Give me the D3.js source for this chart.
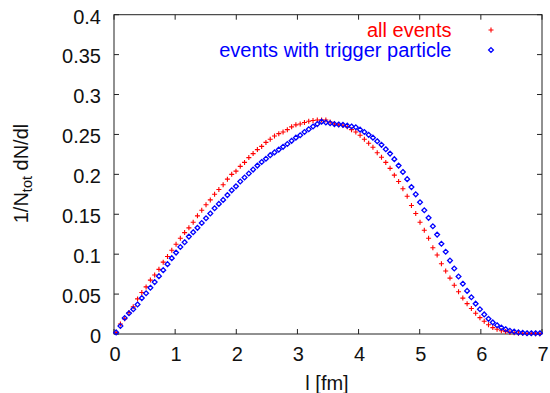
<!DOCTYPE html>
<html>
<head>
<meta charset="utf-8">
<script src="https://cdn.jsdelivr.net/npm/d3@7"></script>
<style>
  body { margin: 0; background: #fff; }
  text { font-family: "Liberation Sans", Arial, sans-serif; }
</style>
</head>
<body>
<svg id="chart" width="550" height="393"></svg>
<script>
// Distribution of path length l, bins of 0.07 fm from 0 to 7 fm
const binWidth = 0.07;

// all events (red +)
const allEvents = [
    0.002, 0.0125, 0.019, 0.027, 0.034, 0.044, 0.052, 0.059, 0.0675, 0.074,
    0.081, 0.090, 0.097, 0.105, 0.1125, 0.120, 0.127, 0.133, 0.140, 0.148,
    0.155, 0.162, 0.168, 0.175, 0.181, 0.187, 0.194, 0.200, 0.204, 0.210,
    0.215, 0.221, 0.226, 0.231, 0.235, 0.240, 0.244, 0.248, 0.251, 0.253,
    0.256, 0.2595, 0.262, 0.263, 0.265, 0.2665, 0.2675, 0.268, 0.268, 0.268,
    0.2655, 0.263, 0.262, 0.2615, 0.2595, 0.256, 0.253, 0.249, 0.244, 0.239,
    0.234, 0.227, 0.2215, 0.215, 0.2075, 0.199, 0.191, 0.182, 0.1725, 0.161,
    0.151, 0.140, 0.130, 0.120, 0.108, 0.099, 0.088, 0.079, 0.070, 0.061,
    0.053, 0.045, 0.038, 0.032, 0.026, 0.0205, 0.016, 0.0115, 0.008, 0.006,
    0.004, 0.003, 0.002, 0.0015, 0.001, 0.0008, 0.0006, 0.0005, 0.0004, 0.0003
];

// events with trigger particle (blue diamonds)
const triggerEvents = [
    0.002, 0.010, 0.020, 0.026, 0.031, 0.037, 0.045, 0.051, 0.058, 0.065,
    0.0725, 0.080, 0.0875, 0.095, 0.102, 0.109, 0.115, 0.122, 0.1275, 0.133,
    0.139, 0.145, 0.151, 0.1575, 0.163, 0.168, 0.174, 0.180, 0.185, 0.191,
    0.196, 0.201, 0.206, 0.211, 0.2155, 0.2195, 0.224, 0.2275, 0.231, 0.2345,
    0.238, 0.242, 0.246, 0.249, 0.253, 0.2565, 0.260, 0.263, 0.266, 0.265,
    0.264, 0.263, 0.2625, 0.262, 0.261, 0.260, 0.259, 0.256, 0.253, 0.2495,
    0.246, 0.2415, 0.237, 0.2315, 0.226, 0.219, 0.211, 0.203, 0.194, 0.184,
    0.175, 0.165, 0.155, 0.1455, 0.135, 0.1245, 0.113, 0.103, 0.092, 0.082,
    0.072, 0.063, 0.054, 0.046, 0.038, 0.031, 0.0245, 0.019, 0.0145, 0.011,
    0.008, 0.006, 0.004, 0.003, 0.002, 0.0015, 0.001, 0.001, 0.001, 0.001
];

const xTicks = [0, 1, 2, 3, 4, 5, 6, 7];
const yTicks = [0, 0.05, 0.1, 0.15, 0.2, 0.25, 0.3, 0.35, 0.4];
const seriesNames = ["all events", "events with trigger particle"];
const seriesColors = ["#ff0000", "#0000ff"];

const svg = d3.select("#chart");
const plotLeft = 114, plotRight = 542, plotTop = 14.7, plotBottom = 334;
const fontSize = 20;

const x = d3.scaleLinear().domain([0, 7]).range([plotLeft, plotRight]);
const y = d3.scaleLinear().domain([0, 0.4]).range([plotBottom, plotTop]);

const binCenter = i => binWidth * (i + 0.5);

// frame
svg.append("rect")
    .attr("x", plotLeft).attr("y", plotTop)
    .attr("width", plotRight - plotLeft).attr("height", plotBottom - plotTop)
    .attr("fill", "none").attr("stroke", "#222").attr("stroke-width", 1);

// ticks (inside, mirrored on all sides)
const tickLen = 5;
const ticksG = svg.append("g").attr("stroke", "#222").attr("stroke-width", 1);
xTicks.forEach(t => {
    ticksG.append("line").attr("x1", x(t)).attr("x2", x(t)).attr("y1", plotBottom).attr("y2", plotBottom - tickLen);
    ticksG.append("line").attr("x1", x(t)).attr("x2", x(t)).attr("y1", plotTop).attr("y2", plotTop + tickLen);
});
yTicks.forEach(t => {
    ticksG.append("line").attr("x1", plotLeft).attr("x2", plotLeft + tickLen).attr("y1", y(t)).attr("y2", y(t));
    ticksG.append("line").attr("x1", plotRight).attr("x2", plotRight - tickLen).attr("y1", y(t)).attr("y2", y(t));
});

// tick labels
svg.append("g").selectAll("text")
    .data(xTicks).enter().append("text")
    .attr("x", d => x(d) + 1).attr("y", 360.5)
    .attr("text-anchor", "middle")
    .attr("font-size", fontSize).attr("fill", "#111")
    .text(d => d);

svg.append("g").selectAll("text")
    .data(yTicks).enter().append("text")
    .attr("x", 101).attr("y", d => y(d) + 8.8)
    .attr("text-anchor", "end")
    .attr("font-size", fontSize).attr("fill", "#111")
    .text(d => d);

// axis titles
svg.append("text")
    .attr("x", 327).attr("y", 389.5)
    .attr("text-anchor", "middle")
    .attr("font-size", fontSize).attr("fill", "#111")
    .text("l [fm]");

const yTitle = svg.append("text")
    .attr("transform", "translate(27.5,173.5) rotate(-90)")
    .attr("text-anchor", "middle")
    .attr("font-size", fontSize).attr("fill", "#111");
yTitle.append("tspan").text("1/N");
yTitle.append("tspan").attr("font-size", 14.5).attr("dy", 4).text("tot");
yTitle.append("tspan").attr("dy", -4).text(" dN/dl");

// markers
function drawPlus(g, cx, cy, color) {
    g.append("path")
        .attr("d", `M${cx - 2.5},${cy}H${cx + 2.5}M${cx},${cy - 2.5}V${cy + 2.5}`)
        .attr("stroke", color).attr("stroke-width", 1.1).attr("fill", "none");
}
function drawDiamond(g, cx, cy, color) {
    const r = 2.4;
    g.append("path")
        .attr("d", `M${cx},${cy - r}L${cx + r},${cy}L${cx},${cy + r}L${cx - r},${cy}Z`)
        .attr("stroke", color).attr("stroke-width", 1.3).attr("fill", "none");
}

const redG = svg.append("g");
allEvents.forEach((v, i) => drawPlus(redG, x(binCenter(i)), y(v), seriesColors[0]));

const blueG = svg.append("g");
triggerEvents.forEach((v, i) => drawDiamond(blueG, x(binCenter(i)), y(v), seriesColors[1]));

// legend
const legend = svg.append("g");
seriesNames.forEach((name, i) => {
    const ly = 30 + i * 20;
    legend.append("text")
        .attr("x", 451.5).attr("y", ly + 6.7)
        .attr("text-anchor", "end")
        .attr("font-size", fontSize).attr("fill", seriesColors[i])
        .text(name);
    if (i === 0) drawPlus(legend, 491, ly, seriesColors[i]);
    else drawDiamond(legend, 491, ly, seriesColors[i]);
});
</script>
</body>
</html>
